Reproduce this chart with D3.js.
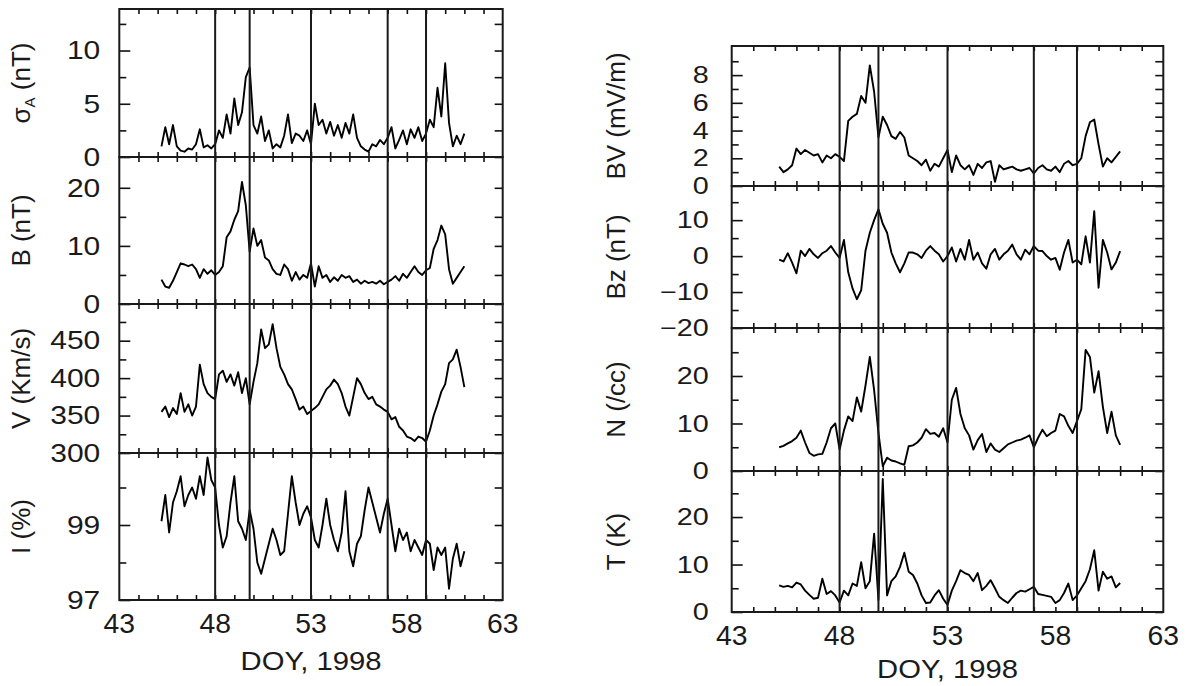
<!DOCTYPE html>
<html>
<head>
<meta charset="utf-8">
<script src="https://d3js.org/d3.v7.min.js"></script>
<style>
body { margin: 0; background: #fff; }
svg { display: block; font-family: "Liberation Sans", Arial, Helvetica, sans-serif; }
.tick line { stroke: #111; stroke-width: 1.6; }
.domain { display: none; }
</style>
</head>
<body>
<svg width="1187" height="686"></svg>
<script>
// day of year, 1998 (sample times)
var days = [45.2, 45.4, 45.6, 45.8, 46.0, 46.2, 46.4, 46.6, 46.8, 47.0,
            47.2, 47.4, 47.6, 47.8, 48.0, 48.2, 48.4, 48.6, 48.8, 49.0,
            49.2, 49.4, 49.6, 49.8, 50.0, 50.2, 50.4, 50.6, 50.8, 51.0,
            51.2, 51.4, 51.6, 51.8, 52.0, 52.2, 52.4, 52.6, 52.8, 53.0,
            53.2, 53.4, 53.6, 53.8, 54.0, 54.2, 54.4, 54.6, 54.8, 55.0,
            55.2, 55.4, 55.6, 55.8, 56.0, 56.2, 56.4, 56.6, 56.8, 57.0,
            57.2, 57.4, 57.6, 57.8, 58.0, 58.2, 58.4, 58.6, 58.8, 59.0,
            59.2, 59.4, 59.6, 59.8, 60.0, 60.2, 60.4, 60.6, 60.8, 61.0];

// left column
var sigmaA = [1.0, 2.8, 1.2, 3.0, 1.0, 0.6, 0.5, 0.8, 0.7, 1.2,
              2.6, 0.9, 1.1, 0.8, 1.2, 2.5, 1.8, 4.0, 2.2, 5.5,
              3.0, 4.2, 7.5, 8.4, 3.0, 2.2, 3.8, 1.5, 2.5, 0.8,
              1.2, 0.9, 2.0, 4.0, 1.3, 2.2, 2.0, 1.5, 2.5, 1.2,
              5.0, 3.0, 3.5, 2.2, 3.3, 2.0, 3.0, 1.8, 3.2, 2.2,
              4.0, 1.8, 1.0, 0.7, 0.5, 1.2, 1.0, 1.6, 1.2, 1.8,
              2.8, 0.8, 1.6, 2.5, 1.2, 2.6, 1.8, 2.8, 1.5, 2.2,
              3.5, 2.8, 6.5, 3.8, 8.8, 3.2, 1.0, 2.0, 1.2, 2.2];
var bField = [4.2, 3.0, 2.8, 4.0, 5.5, 7.0, 6.8, 6.5, 6.8, 6.0,
              4.5, 6.0, 5.2, 5.8, 5.0, 5.5, 6.5, 11.5, 12.5, 14.5,
              16.0, 21.0, 17.0, 9.0, 13.0, 10.0, 11.0, 8.0, 7.5, 6.0,
              5.2, 5.0, 6.8, 6.0, 4.0, 5.5, 4.2, 5.0, 4.5, 7.0,
              3.0, 6.5, 4.5, 5.0, 3.8, 4.6, 4.0, 5.0, 4.5, 4.8,
              3.8, 4.2, 3.5, 4.0, 3.6, 3.8, 3.5, 4.0, 3.4, 3.8,
              4.2, 4.8, 4.0, 5.2, 4.5, 5.5, 6.5, 5.5, 5.0, 5.8,
              6.2, 9.5, 11.0, 13.5, 12.0, 6.0, 3.5, 4.5, 5.5, 6.5];
var speed = [355, 362, 348, 360, 352, 380, 355, 365, 350, 362,
             418, 392, 380, 375, 372, 405, 410, 395, 405, 390,
             408, 380, 400, 365, 395, 420, 465, 440, 445, 472,
             440, 415, 405, 392, 385, 372, 358, 362, 352, 356,
             360, 365, 375, 385, 390, 398, 392, 380, 362, 350,
             375, 400, 392, 380, 372, 375, 365, 362, 358, 355,
             345, 348, 335, 330, 322, 320, 316, 322, 320, 315,
             330, 350, 365, 382, 392, 420, 425, 438, 415, 388];
var intensity = [99.1, 99.8, 98.8, 99.6, 99.9, 100.3, 99.5, 99.8, 100.0, 99.7,
                 100.3, 99.8, 100.8, 100.2, 100.0, 99.0, 98.4, 98.7, 99.6, 100.3,
                 99.1, 98.9, 98.6, 99.4, 98.9, 98.0, 97.7, 98.1, 98.5, 98.9,
                 98.6, 98.2, 98.3, 99.3, 100.3, 99.6, 99.0, 99.3, 99.5, 99.2,
                 98.6, 98.4, 99.0, 99.7, 99.0, 98.6, 98.3, 98.8, 99.9, 98.3,
                 97.9, 98.5, 98.7, 99.4, 100.0, 99.6, 99.2, 98.8, 99.3, 99.7,
                 99.0, 98.3, 98.9, 98.6, 98.8, 98.3, 98.6, 98.4, 98.2, 98.6,
                 98.5, 97.8, 98.4, 98.2, 98.4, 97.3, 98.1, 98.5, 97.9, 98.3];

// right column
var bv = [1.4, 1.0, 1.2, 1.5, 2.7, 2.3, 2.6, 2.4, 2.2, 2.3,
          1.7, 2.2, 2.0, 2.3, 2.1, 1.8, 4.7, 5.0, 5.2, 6.5,
          6.0, 8.7, 6.8, 3.5, 5.0, 4.4, 3.6, 3.4, 3.9, 3.5,
          2.2, 2.0, 1.8, 1.5, 1.9, 1.1, 1.6, 1.4, 2.0, 2.6,
          1.0, 2.2, 1.5, 1.2, 1.5, 0.8, 1.6, 1.3, 1.7, 1.8,
          0.3, 1.5, 1.2, 1.3, 1.4, 1.2, 1.1, 1.2, 1.3, 0.9,
          1.3, 1.5, 1.2, 1.1, 1.4, 1.0, 1.6, 1.8, 1.5, 1.6,
          2.0, 3.6, 4.6, 4.8, 3.0, 1.4, 2.0, 1.7, 2.1, 2.5];
var bz = [-1.0, -1.5, 0.8, -1.8, -4.8, 1.5, 0.0, 2.0, 0.5, -0.5,
          0.8, 1.5, 2.8, 1.0, -0.5, 4.5, -4.5, -9.0, -12.0, -9.5,
          1.5, 6.5, 10.0, 13.0, 9.0, 6.5, 1.0, -2.0, -4.5, -2.0,
          1.0, 1.0, 0.5, -0.5, 1.5, 2.8, 1.5, 0.5, -1.5, 0.0,
          2.4, -1.5, 2.0, -1.0, 4.5, -1.0, 1.0, -2.0, -3.5, 0.5,
          2.0, -1.0, 0.5, 1.5, 3.2, 0.5, -1.0, 1.8, 0.5, 2.8,
          1.5, 1.4, 0.0, -1.0, -0.5, -3.8, 1.0, 4.5, -1.8, -1.0,
          -2.3, 5.5, -1.8, 12.5, -8.8, 4.5, 1.0, -3.7, -1.8, 1.4];
var density = [5.0, 5.3, 5.8, 6.3, 7.0, 8.5, 6.0, 3.8, 3.2, 3.5,
               3.6, 6.0, 9.0, 10.0, 4.5, 8.5, 11.5, 10.5, 15.5, 12.5,
               18.0, 24.0, 17.0, 8.0, 1.0, 2.8, 2.2, 2.0, 1.6, 1.3,
               5.2, 5.4, 6.0, 7.0, 8.8, 7.8, 8.0, 7.2, 9.0, 6.0,
               15.0, 17.5, 12.0, 9.0, 7.5, 4.5, 6.5, 7.8, 4.0, 5.8,
               4.5, 4.0, 4.8, 5.6, 6.0, 6.4, 6.6, 7.0, 7.5, 5.0,
               7.0, 8.7, 7.3, 8.0, 8.5, 12.0, 11.5, 9.5, 8.0, 10.5,
               13.0, 25.5, 24.0, 16.5, 21.0, 13.5, 8.0, 12.5, 7.5, 5.5];
var temperature = [5.6, 5.3, 5.5, 5.2, 6.2, 5.8, 4.5, 3.6, 2.8, 3.0,
                   7.0, 3.8, 4.4, 3.5, 2.0, 4.5, 3.5, 6.0, 5.5, 10.5,
                   5.0, 6.5, 16.5, 2.5, 28.0, 3.5, 6.5, 7.5, 9.5, 12.5,
                   8.5, 7.8, 6.0, 3.5, 1.9, 2.0, 3.5, 4.6, 2.8, 1.5,
                   4.5, 6.5, 8.8, 8.2, 7.8, 6.5, 8.2, 4.6, 5.5, 6.7,
                   5.0, 3.2, 2.5, 1.9, 3.0, 4.0, 4.5, 4.3, 4.8, 5.3,
                   3.8, 3.6, 3.4, 3.2, 1.9, 2.5, 4.0, 6.0, 2.5, 3.5,
                   5.0, 6.5, 9.0, 13.0, 4.5, 8.5, 7.0, 7.5, 5.2, 6.1];

var eventDays = [48, 49.8, 53, 57, 59];
var xLabels = [43, 48, 53, 58, 63];
var xMinor = [44, 45, 46, 47, 48, 49, 50, 51, 52, 53, 54, 55, 56, 57, 58, 59, 60, 61, 62];
var xTitle = "DOY, 1998";

var svg = d3.select("svg");
var ink = "#1a1a1a";

function txt(g, x, y, s, size, sx, anchor) {
    return g.append("text")
        .attr("transform", "translate(" + x + "," + y + ") scale(" + sx + ",1)")
        .attr("text-anchor", anchor)
        .attr("dy", "0.35em")
        .attr("font-size", size)
        .attr("fill", ink)
        .text(s);
}

function column(opt) {
    var g = svg.append("g");
    var x = d3.scaleLinear().domain([43, 63]).range([opt.x0, opt.x1]);

    opt.panels.forEach(function(p) {
        var y = d3.scaleLinear().domain(p.domain).range([p.bottom, p.top]);

        // ticks, all pointing inward
        g.append("g").attr("transform", "translate(" + opt.x0 + ",0)")
            .call(d3.axisLeft(y).tickValues(p.major).tickSizeInner(-11).tickSizeOuter(0).tickFormat(""));
        g.append("g").attr("transform", "translate(" + opt.x0 + ",0)")
            .call(d3.axisLeft(y).tickValues(p.minor).tickSizeInner(-7).tickSizeOuter(0).tickFormat(""));
        g.append("g").attr("transform", "translate(" + opt.x1 + ",0)")
            .call(d3.axisRight(y).tickValues(p.major.concat(p.minor)).tickSizeInner(-8).tickSizeOuter(0).tickFormat(""));
        g.append("g").attr("transform", "translate(0," + p.bottom + ")")
            .call(d3.axisBottom(x).tickValues(xMinor).tickSizeInner(-5).tickSizeOuter(0).tickFormat(""));
        g.append("g").attr("transform", "translate(0," + p.top + ")")
            .call(d3.axisTop(x).tickValues(xMinor).tickSizeInner(-5).tickSizeOuter(0).tickFormat(""));

        // tick labels
        p.major.forEach(function(v) {
            txt(g, opt.x0 - opt.labelGap, y(v), p.fmt(v), opt.tickSize, opt.tickStretch, "end");
        });

        // axis title
        var t = g.append("text")
            .attr("transform", "translate(" + opt.titleX + "," + ((p.top + p.bottom) / 2) + ") rotate(-90)")
            .attr("text-anchor", "middle")
            .attr("dy", "0.35em")
            .attr("font-size", opt.titleSize)
            .attr("fill", ink);
        p.title.forEach(function(part) {
            t.append("tspan").attr("dy", part[1]).attr("font-size", part[2] || opt.titleSize).text(part[0]);
        });

        // data
        var line = d3.line()
            .x(function(d, i) { return x(days[i]); })
            .y(function(d) { return y(d); });
        g.append("path")
            .datum(p.values)
            .attr("d", line)
            .attr("fill", "none")
            .attr("stroke", "#000")
            .attr("stroke-width", 1.9)
            .attr("stroke-linejoin", "round");

        // frame
        g.append("rect")
            .attr("x", opt.x0).attr("y", p.top)
            .attr("width", opt.x1 - opt.x0).attr("height", p.bottom - p.top)
            .attr("fill", "none").attr("stroke", ink).attr("stroke-width", 2);
    });

    var top = opt.panels[0].top, bottom = opt.panels[opt.panels.length - 1].bottom;
    g.selectAll(".event").data(eventDays).enter().append("line")
        .attr("x1", function(d) { return x(d); }).attr("x2", function(d) { return x(d); })
        .attr("y1", top).attr("y2", bottom)
        .attr("stroke", ink).attr("stroke-width", 2);

    xLabels.forEach(function(v) {
        txt(g, x(v), bottom + 24, String(v), 27, 1.05, "middle");
    });
    txt(g, x(53), bottom + opt.titleDy, xTitle, 25, 1.17, "middle");
}

function num(v) { return (v < 0 ? "\u2212" : "") + Math.abs(v); }

column({
    x0: 119.3, x1: 502.7, titleX: 30, labelGap: 19, tickSize: 25, tickStretch: 1.2,
    titleSize: 26, titleDy: 61,
    panels: [
        {top: 9, bottom: 157, domain: [0, 13.9], major: [0, 5, 10], minor: [2.5, 7.5, 12.5],
         values: sigmaA, fmt: num, title: [["\u03c3", 0], ["A", 5, 15], [" (nT)", -5]]},
        {top: 157, bottom: 304, domain: [0, 25.3], major: [0, 10, 20], minor: [5, 15],
         values: bField, fmt: num, title: [["B (nT)", 0]]},
        {top: 304, bottom: 453, domain: [300, 499], major: [300, 350, 400, 450], minor: [325, 375, 425, 475],
         values: speed, fmt: num, title: [["V (Km/s)", 0]]},
        {top: 453, bottom: 600, domain: [97, 100.92], major: [97, 99], minor: [98, 100],
         values: intensity, fmt: num, title: [["I (%)", 0]]}
    ]
});

column({
    x0: 731.7, x1: 1163.3, titleX: 625, labelGap: 23, tickSize: 23, tickStretch: 1.25,
    titleSize: 26, titleDy: 57,
    panels: [
        {top: 46, bottom: 186, domain: [0, 10.1], major: [0, 2, 4, 6, 8], minor: [1, 3, 5, 7, 9],
         values: bv, fmt: num, title: [["BV (mV/m)", 0]]},
        {top: 186, bottom: 328, domain: [-20, 19.5], major: [-20, -10, 0, 10], minor: [-15, -5, 5, 15],
         values: bz, fmt: num, title: [["Bz (nT)", 0]]},
        {top: 328, bottom: 471, domain: [0, 30.1], major: [0, 10, 20], minor: [5, 15, 25],
         values: density, fmt: num, title: [["N (/cc)", 0]]},
        {top: 471, bottom: 612, domain: [0, 29.7], major: [0, 10, 20], minor: [5, 15, 25],
         values: temperature, fmt: num, title: [["T (K)", 0]]}
    ]
});
</script>
</body>
</html>
